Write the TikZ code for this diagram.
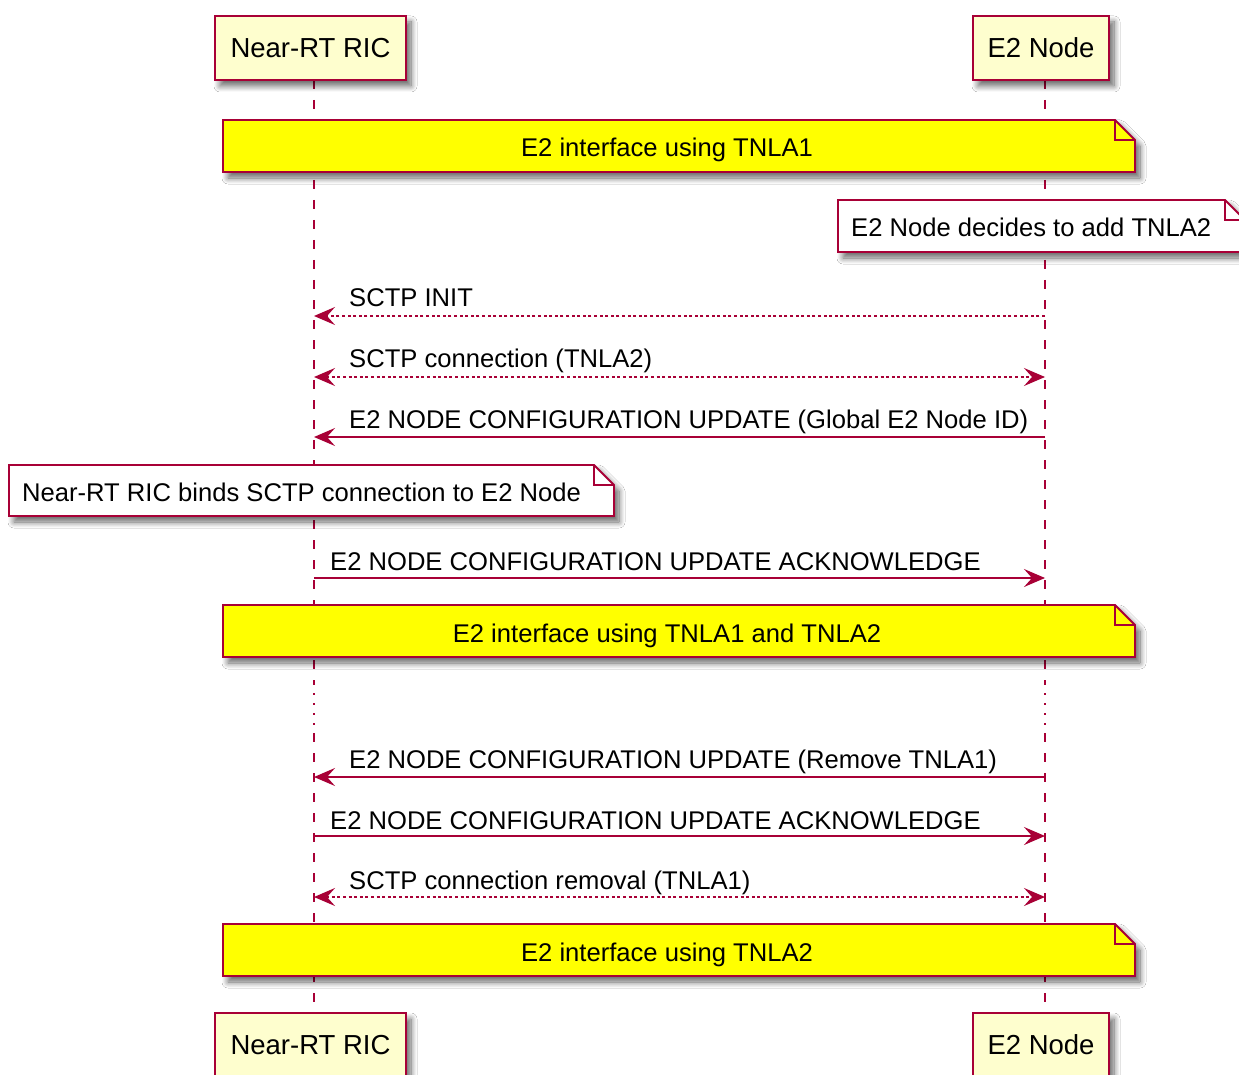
\documentclass[tikz,border=0pt]{standalone}
\usepackage{fontspec}
\setmainfont{Liberation Sans}
\usetikzlibrary{arrows.meta,shadows.blur}
\definecolor{puborder}{HTML}{A80036}
\definecolor{pufill}{HTML}{FEFECE}
\definecolor{noteyellow}{HTML}{FFFF00}
\newcommand\pufoldnote[5]{%
  \path[notebody, fill=#5] (#1,#2) -- ({#3-20},#2) -- (#3,{#2+20}) -- (#3,#4) -- (#1,#4) -- cycle;
  \draw[noteline] ({#3-20},#2) -- ({#3-20},{#2+20}) -- (#3,{#2+20});}
\tikzset{
  msgfont/.style={font=\fontsize{25.6}{30}\selectfont},
  partfont/.style={font=\fontsize{27.5}{32}\selectfont},
  lifeline/.style={draw=puborder, line width=1.8pt, dash pattern=on 9pt off 11pt},
  delayline/.style={draw=puborder, line width=1.8pt, dash pattern=on 1.8pt off 8.2pt},
  msg/.style={draw=puborder, line width=1.8pt, -{Stealth[length=21pt,width=18pt,inset=8pt]}},
  bimsg/.style={draw=puborder, line width=1.8pt, {Stealth[length=21pt,width=18pt,inset=8pt]}-{Stealth[length=21pt,width=18pt,inset=8pt]}},
  dotmsg/.style={dash pattern=on 3pt off 2.6pt},
  msglabel/.style={msgfont, anchor=base west, inner sep=0pt, text=black},
  notetext/.style={msgfont, anchor=base, inner sep=0pt, text=black},
  notetextw/.style={msgfont, anchor=base west, inner sep=0pt, text=black},
  pushadow/.style={blur shadow={shadow xshift=5pt, shadow yshift=-6pt, shadow blur radius=6pt, shadow blur steps=10, shadow opacity=60}},
  notebody/.style={draw=puborder, line width=1.8pt, pushadow},
  noteline/.style={draw=puborder, line width=1.8pt},
  partbox/.style={draw=puborder, fill=pufill, line width=2.2pt, partfont, text=black, inner sep=0pt,
    minimum height=64pt, pushadow},
}
\begin{document}
\begin{tikzpicture}[x=1pt,y=-1pt]
\useasboundingbox[fill=white] (0,0) rectangle (1239,1075);

% lifelines
\coordinate (ricA) at (314,80);
\coordinate (ricB) at (314,683);
\coordinate (ricC) at (314,733);
\coordinate (ricD) at (314,1013);
\coordinate (e2A) at (1045,80);
\coordinate (e2B) at (1045,683);
\coordinate (e2C) at (1045,733);
\coordinate (e2D) at (1045,1013);
\draw[lifeline] (ricA) -- (ricB);
\draw[delayline] (ricB) -- (ricC);
\draw[lifeline] (ricC) -- (ricD);
\draw[lifeline] (e2A) -- (e2B);
\draw[delayline] (e2B) -- (e2C);
\draw[lifeline] (e2C) -- (e2D);

% participants
\node[partbox, minimum width=191pt] (ricTop) at (310.5,48) {Near-RT RIC};
\node[partbox, minimum width=136pt] (e2Top) at (1041,48) {E2 Node};
\node[partbox, minimum width=191pt] (ricBot) at (310.5,1045) {Near-RT RIC};
\node[partbox, minimum width=136pt] (e2Bot) at (1041,1045) {E2 Node};

% note 1
\pufoldnote{223}{120}{1135}{172}{noteyellow}
\node[notetext] (n1) at (667,157) {E2 interface using TNLA1};

% note: E2 Node decides
\pufoldnote{838}{200}{1245}{252}{white}
\node[notetextw] (n2) at (851,237) {E2 Node decides to add TNLA2};

% message 1
\coordinate (m1s) at (1045,316); \coordinate (m1e) at (314,316);
\draw[msg, dotmsg] (m1s) -- (m1e);
\node[msglabel] (l1) at (349,306) {SCTP INIT};

% message 2
\coordinate (m2s) at (314,377); \coordinate (m2e) at (1045,377);
\draw[bimsg, dotmsg] (m2s) -- (m2e);
\node[msglabel] (l2) at (349,367) {SCTP connection (TNLA2)};

% message 3
\coordinate (m3s) at (1045,437); \coordinate (m3e) at (314,437);
\draw[msg] (m3s) -- (m3e);
\node[msglabel] (l3) at (349,428) {E2 NODE CONFIGURATION UPDATE (Global E2 Node ID)};

% note: binds
\pufoldnote{9}{465}{614}{516}{white}
\node[notetextw] (n3) at (22,501) {Near-RT RIC binds SCTP connection to E2 Node};

% message 4
\coordinate (m4s) at (314,578); \coordinate (m4e) at (1045,578);
\draw[msg] (m4s) -- (m4e);
\node[msglabel] (l4) at (330,570) {E2 NODE CONFIGURATION UPDATE ACKNOWLEDGE};

% note 2
\pufoldnote{223}{605}{1135}{657}{noteyellow}
\node[notetext] (n4) at (667,642) {E2 interface using TNLA1 and TNLA2};

% message 5
\coordinate (m5s) at (1045,777); \coordinate (m5e) at (314,777);
\draw[msg] (m5s) -- (m5e);
\node[msglabel] (l5) at (349,768) {E2 NODE CONFIGURATION UPDATE (Remove TNLA1)};

% message 6
\coordinate (m6s) at (314,836); \coordinate (m6e) at (1045,836);
\draw[msg] (m6s) -- (m6e);
\node[msglabel] (l6) at (330,829) {E2 NODE CONFIGURATION UPDATE ACKNOWLEDGE};

% message 7
\coordinate (m7s) at (314,897); \coordinate (m7e) at (1045,897);
\draw[bimsg, dotmsg] (m7s) -- (m7e);
\node[msglabel] (l7) at (349,889) {SCTP connection removal (TNLA1)};

% note 3
\pufoldnote{223}{924}{1135}{976}{noteyellow}
\node[notetext] (n5) at (667,961) {E2 interface using TNLA2};
\end{tikzpicture}
\end{document}
